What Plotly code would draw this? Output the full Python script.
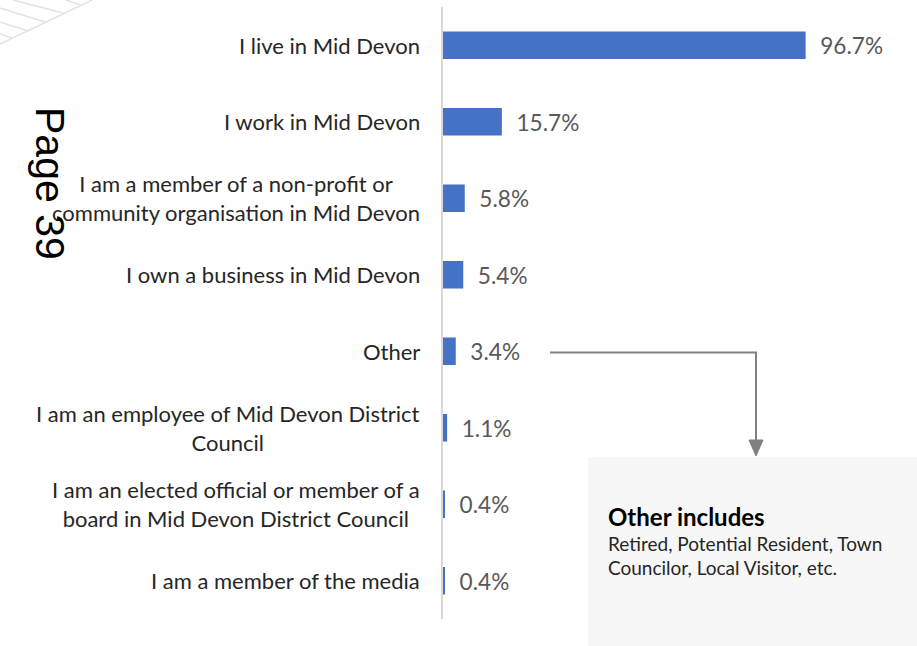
import plotly.graph_objects as go

categories = [
    "I live in Mid Devon",
    "I work in Mid Devon",
    "I am a member of a non-profit or<br>community organisation in Mid Devon",
    "I own a business in Mid Devon",
    "Other",
    "I am an employee of Mid Devon District<br>Council",
    "I am an elected official or member of a<br>board in Mid Devon District Council",
    "I am a member of the media",
]
values = [96.7, 15.7, 5.8, 5.4, 3.4, 1.1, 0.4, 0.4]

note_title = "Other includes"
note_body = "Retired, Potential Resident, Town<br>Councilor, Local Visitor, etc."
page_label = "Page 39"

W, H = 917, 646
L, R, T, B = 443, 99, 7, 27
PW = W - L - R
PH = H - T - B


def px(x):
    return (x - L) / PW


def py(y):
    return (H - B - y) / PH


FONT = "Lato"

fig = go.Figure()
fig.add_trace(go.Bar(
    y=categories,
    x=values,
    orientation="h",
    marker=dict(color="#4472C4", line=dict(width=0)),
    texttemplate="\u00a0\u00a0%{x:.1f}%",
    textposition="outside",
    textfont=dict(family=FONT, size=23, color="#595959"),
    cliponaxis=False,
    hoverinfo="skip",
))

annotations = []
for c in categories:
    annotations.append(dict(
        x=0, xref="paper", y=c, yref="y",
        text=c, showarrow=False, xanchor="right", yanchor="middle",
        xshift=-21, align="center",
        font=dict(family=FONT, size=22, color="#262626"),
    ))

annotations.append(dict(
    x=px(50), y=py(183), xref="paper", yref="paper",
    text=page_label, showarrow=False, textangle=90,
    xanchor="center", yanchor="middle",
    font=dict(family="Liberation Sans", size=41, color="#000000"),
))
annotations.append(dict(
    x=px(606), y=py(500), xref="paper", yref="paper",
    text=("<span style='font-size:24px;color:#000000'><b>" + note_title
          + "</b></span><br>" + note_body),
    showarrow=False,
    xanchor="left", yanchor="top", align="left",
    font=dict(family=FONT, size=19, color="#262626"),
))

shapes = [
    # note box
    dict(type="rect", xref="paper", yref="paper",
         x0=px(588), x1=px(920), y0=py(650), y1=py(457),
         fillcolor="#f7f7f7", line=dict(width=0), layer="below"),
    # connector
    dict(type="path", xref="paper", yref="paper",
         path=f"M {px(550)},{py(352.5)} L {px(756)},{py(352.5)} L {px(756)},{py(442)}",
         line=dict(color="#808080", width=2)),
    dict(type="path", xref="paper", yref="paper",
         path=f"M {px(749)},{py(440)} L {px(763)},{py(440)} L {px(756)},{py(456)} Z",
         fillcolor="#808080", line=dict(color="#808080", width=1)),
]
# decorative corner lines
deco = [((0, 44), (92, 0)), ((13, 0), (63, 13)), ((0, 8), (45, 22)),
        ((0, 22), (28, 31)), ((0, 34), (12, 38)), ((66, 0), (80, 5))]
for (x0, y0), (x1, y1) in deco:
    shapes.append(dict(type="line", xref="paper", yref="paper",
                       x0=px(x0), y0=py(y0), x1=px(x1), y1=py(y1),
                       line=dict(color="#e3e3e3", width=1.5)))

fig.update_layout(
    width=W, height=H,
    margin=dict(l=L, r=R, t=T, b=B, pad=0),
    paper_bgcolor="white", plot_bgcolor="white",
    showlegend=False,
    bargap=0.64,
    xaxis=dict(range=[0, 100], visible=False, fixedrange=True),
    yaxis=dict(autorange="reversed", showticklabels=False, ticks="",
               showline=True, linecolor="#d9d9d9", linewidth=1.5,
               showgrid=False, zeroline=False, fixedrange=True),
    annotations=annotations,
    shapes=shapes,
)

fig.write_html("out.html",
               config={"displayModeBar": False},
               post_script="document.body.style.margin='0';document.body.style.overflow='hidden';")
